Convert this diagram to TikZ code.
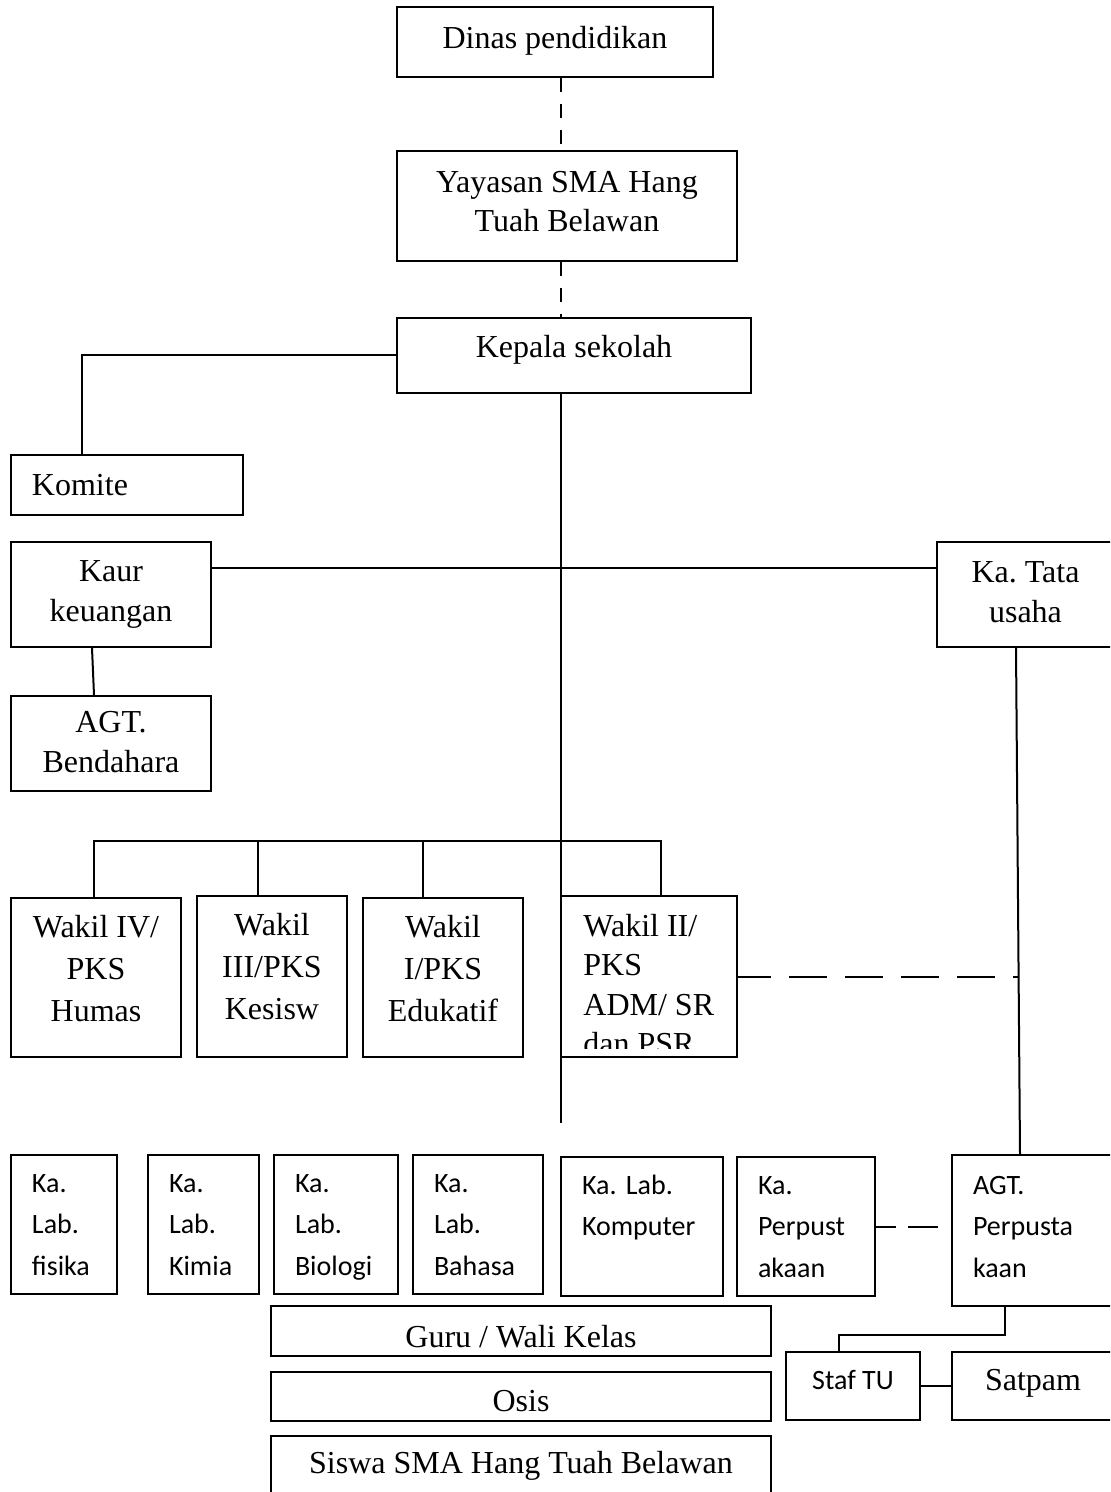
\documentclass[tikz,border=0pt]{standalone}
\usepackage{fontspec}
\setmainfont{Liberation Serif}
\newfontfamily\carl{Carlito}
\usetikzlibrary{calc}
\hyphenpenalty=10000
\exhyphenpenalty=10000
\parindent=0pt
\frenchspacing
\tikzset{
  vs/.style 2 args={execute at begin node={\frenchspacing\rule{0pt}{#1}}, execute at end node={\rule[-#2]{0pt}{#2}}},
  bx/.style={draw=black, line width=1pt, inner sep=0pt, align=center, font=\fontsize{16}{20}\selectfont},
  sl/.style={draw=black, line width=1pt, inner ysep=0pt, inner xsep=10.5pt, align=left, font=\fontsize{16}{20}\selectfont},
  cb/.style={draw=black, line width=1pt, inner ysep=0pt, inner xsep=10.5pt, align=left, font=\carl\fontsize{14}{20.75}\selectfont},
  cc/.style={draw=black, line width=1pt, inner sep=0pt, align=center, font=\carl\fontsize{14}{20.75}\selectfont},
  ln/.style={line width=1pt},
  dl/.style={line width=1pt, dash pattern=on 7pt off 6pt}
}
\begin{document}
\begin{tikzpicture}[x=0.5pt,y=-0.5pt]
\useasboundingbox (0,0) rectangle (1110,1492);
\clip (0,0) rectangle (1110,1492);
\fill[white] (0,0) rectangle (1110,1492);
\coordinate (trunk) at (561,0);
\coordinate (trunkend) at (561,1123);

% top chain
\node[bx, minimum width=158pt, minimum height=35pt, vs={12pt}{5.4pt}] (dinas) at (555,42) {Dinas pendidikan};
\node[bx, font=\fontsize{16}{19.5}\selectfont, minimum width=170pt, minimum height=55pt, vs={12pt}{4.9pt}] (yay) at (567,206) {Yayasan SMA Hang\\Tuah Belawan};
\node[bx, minimum width=177pt, minimum height=37.5pt, vs={12pt}{9.9pt}] (kep) at (574,355.5) {Kepala sekolah};
\node[sl, minimum width=116pt, minimum height=30pt, text width=95pt, vs={12pt}{1.4pt}] (kom) at (127,485) {Komite};
\node[bx, minimum width=100pt, minimum height=52.5pt, vs={12pt}{3.9pt}] (kaur) at (111,594.5) {Kaur\\keuangan};
\node[bx, minimum width=100pt, minimum height=47.5pt, vs={16pt}{1.9pt}] (agtb) at (111,743.5) {AGT.\\Bendahara};
\node[bx, minimum width=88.5pt, minimum height=52.5pt, vs={12pt}{2.9pt}] (tata) at (1025.5,594.5) {Ka. Tata\\usaha};

% wakil row
\node[bx, font=\fontsize{16}{21}\selectfont, minimum width=85pt, minimum height=79.5pt, vs={12pt}{8.9pt}] (w4) at (96,977.5) {Wakil IV/\\PKS\\Humas};
\node[bx, font=\fontsize{16}{21}\selectfont, minimum width=75pt, minimum height=80.5pt, vs={12pt}{9.9pt}] (w3) at (272,976.5) {Wakil\\III/PKS\\Kesisw};
\node[bx, font=\fontsize{16}{21}\selectfont, minimum width=80pt, minimum height=79.5pt, vs={12pt}{8.9pt}] (w1) at (443,977.5) {Wakil\\I/PKS\\Edukatif};
\node[bx, minimum width=88pt, minimum height=80.5pt] (w2) at (649,976.5) {};
\begin{scope}
\clip (w2.north west) rectangle ($(w2.south east)+(0,-10)$);
\node[inner sep=0pt, anchor=north west, align=left, font=\fontsize{16}{19.7}\selectfont, vs={12pt}{0pt}] (w2t) at (583,913.6) {Wakil II/\\PKS\\ADM/ SR\\dan PSR};
\end{scope}

% lab row
\node[cb, minimum width=53pt, minimum height=69.5pt, text width=32pt, vs={12pt}{3pt}] (lfis) at (64,1224.5) {Ka.\\Lab.\\fisika};
\node[cb, minimum width=55.5pt, minimum height=69.5pt, text width=34.5pt, vs={12pt}{3pt}] (lkim) at (203.5,1224.5) {Ka.\\Lab.\\Kimia};
\node[cb, minimum width=62pt, minimum height=69.5pt, text width=41pt, vs={12pt}{3pt}] (lbio) at (336,1224.5) {Ka.\\Lab.\\Biologi};
\node[cb, minimum width=65pt, minimum height=69.5pt, text width=44pt, vs={12pt}{3pt}] (lbah) at (478,1224.5) {Ka.\\Lab.\\Bahasa};
\node[cb, minimum width=81pt, minimum height=69.5pt, text width=60pt, vs={12pt}{3pt}] (lkom) at (642,1226.5) {Ka. Lab.\\Komputer\\\mbox{}};
\node[cb, minimum width=69pt, minimum height=69.5pt, text width=48pt, vs={12pt}{3pt}] (kap) at (806,1226.5) {Ka.\\Perpust\\akaan};
\node[cb, minimum width=81pt, minimum height=75.5pt, text width=60pt, vs={12pt}{7pt}] (agtp) at (1033,1230.5) {AGT.\\Perpusta\\kaan};

% bottom
\node[cc, minimum width=67pt, minimum height=34pt, vs={12pt}{9pt}] (staf) at (853,1386) {Staf TU};
\node[bx, minimum width=81pt, minimum height=34pt, vs={12pt}{7.4pt}] (satpam) at (1033,1386) {Satpam};
\node[bx, minimum width=250pt, minimum height=25pt, vs={18pt}{1.4pt}] (guru) at (521,1331) {Guru / Wali Kelas};
\node[bx, minimum width=250pt, minimum height=24.5pt, vs={18pt}{2.9pt}] (osis) at (521,1396.5) {Osis};
\node[bx, minimum width=250pt, minimum height=36pt, vs={12pt}{10.9pt}] (siswa) at (521,1472) {Siswa SMA Hang Tuah Belawan};

% connectors
\draw[dl] (dinas.south -| trunk) -- (yay.north -| trunk);
\draw[dl] (yay.south -| trunk) -- (kep.north -| trunk);
\draw[ln] (kep.west) -| ($(kom.north west)+(72,0)$);
\draw[ln] (kep.south -| trunk) -- (trunkend);
\draw[ln] ($(kaur.north east)+(0,27)$) -- ($(tata.north west)+(0,27)$);
\draw[ln] ($(kaur.south west)+(82,0)$) -- ($(agtb.north west)+(84,0)$);
\draw[ln] ($(tata.south west)+(80,0)$) -- ($(agtp.north west)+(69,0)$);
\draw[ln] ($(w4.north west)+(84,0)$) |- ($(w2.north west)+(101,-54)$) -- ($(w2.north west)+(101,0)$);
\draw[ln] ($(w3.north west)+(62,0)$) -- ++(0,-54);
\draw[ln] ($(w1.north west)+(61,0)$) -- ++(0,-56);
\draw[ln, dash pattern=on 19pt off 9pt, dash phase=2.5pt] (w2.east) -- ($(w2.east -| tata.south west)+(82,0)$);
\draw[ln, dash pattern=on 10pt off 6pt on 15pt off 7.5pt] (kap.east) -- (agtp.west |- kap.east);
\draw[ln] ($(agtp.south west)+(54,0)$) -- ++(0,28) -| ($(staf.north west)+(54,0)$);
\draw[ln] (staf.east) -- (satpam.west);
\end{tikzpicture}
\end{document}
